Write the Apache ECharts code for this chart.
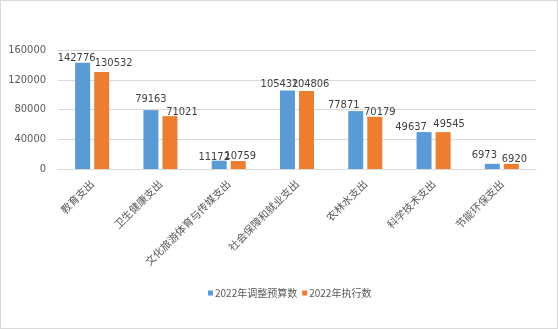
<!DOCTYPE html>
<html><head><meta charset="utf-8">
<script src="https://cdn.jsdelivr.net/npm/echarts@6/dist/echarts.min.js"></script>
<style>html,body{margin:0;padding:0;background:#fff}#c{width:556px;height:327px;border:1px solid #d9d9d9;}</style>
</head><body><div id="c"></div>
<script>
const categories = ['教育支出','卫生健康支出','文化旅游体育与传媒支出','社会保障和就业支出','农林水支出','科学技术支出','节能环保支出'];
const seriesNames = ['2022年调整预算数','2022年执行数'];
const budget = [142776, 79163, 11172, 105432, 77871, 49637, 6973];
const actual = [130532, 71021, 10759, 104806, 70179, 49545, 6920];
const yTicks = [0, 40000, 80000, 120000, 160000];

// label nudges (style only), mimicking the manually placed labels of the original
const budgetLabelNudge = [[-6,4],[0,-2],[-5,5],[-8,2],[-12,3],[-13,4],[-8,0]];
const actualLabelNudge = [[12,0],[12,4],[2,4],[4,2],[5,4],[6,0],[3,4]];

const numFont = 'Liberation Sans Narrow, Arial Narrow, DejaVu Sans Condensed, sans-serif';
const chart = echarts.init(document.getElementById('c'));
const mk = (vals, nudges) => vals.map((v,i)=>({value:v, label:{offset:nudges[i]}}));
const lbl = {show:true, position:'top', distance:3, color:'#404040', fontSize:11, fontFamily:numFont};
chart.setOption({
  animation:false,
  grid:{left:57, top:49, width:478, height:119, containLabel:false},
  legend:{top:282, left:202, itemWidth:5, itemHeight:5, itemGap:5, icon:'rect',
    textStyle:{color:'#595959', fontSize:10, fontFamily:'Noto Sans CJK SC', padding:[0,0,0,-3]}, data:seriesNames},
  xAxis:{type:'category', data:categories,
    axisLine:{lineStyle:{color:'#d9d9d9'}}, axisTick:{show:false},
    axisLabel:{rotate:45, interval:0, color:'#595959', fontSize:10.5, fontFamily:'Noto Sans CJK SC', margin:13}},
  yAxis:{type:'value', min:yTicks[0], max:yTicks[yTicks.length-1], interval:40000,
    axisLine:{show:false}, axisTick:{show:false},
    axisLabel:{color:'#595959', fontSize:11, fontFamily:numFont, margin:12, formatter:(v)=>String(v)},
    splitLine:{lineStyle:{color:'#d9d9d9'}}},
  series:[
    {name:seriesNames[0], type:'bar', data:mk(budget,budgetLabelNudge), barWidth:15, barGap:'27%', itemStyle:{color:'#5b9bd5'}, label:lbl},
    {name:seriesNames[1], type:'bar', data:mk(actual,actualLabelNudge), barWidth:15, itemStyle:{color:'#ed7d31'}, label:lbl}
  ]
});
</script></body></html>
